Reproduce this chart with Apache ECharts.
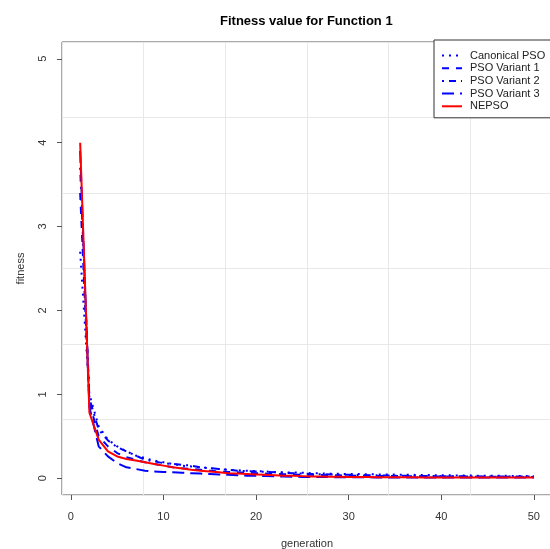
<!DOCTYPE html>
<html>
<head>
<meta charset="utf-8">
<script src="https://cdn.jsdelivr.net/npm/echarts@6/dist/echarts.min.js"></script>
<style>html,body{margin:0;padding:0;background:#fff}#c{width:550px;height:549px}</style>
</head>
<body>
<div id="c"></div>
<script>
const generations = Array.from({length: 50}, (_, i) => i + 1);
const xTicks = [0, 10, 20, 30, 40, 50];
const yTicks = [0, 1, 2, 3, 4, 5];
const seriesNames = ['Canonical PSO', 'PSO Variant 1', 'PSO Variant 2', 'PSO Variant 3', 'NEPSO'];

const canonicalPSO = [2.7, 1.0, 0.62, 0.46, 0.38, 0.32, 0.27, 0.24, 0.21, 0.19,
  0.17, 0.15, 0.14, 0.13, 0.12, 0.11, 0.10, 0.095, 0.09, 0.085,
  0.08, 0.075, 0.07, 0.068, 0.065, 0.06, 0.058, 0.055, 0.053, 0.05,
  0.05, 0.048, 0.046, 0.045, 0.043, 0.042, 0.04, 0.038, 0.037, 0.035,
  0.034, 0.033, 0.032, 0.03, 0.03, 0.029, 0.028, 0.027, 0.026, 0.025];
const psoVariant1 = [3.4, 0.9, 0.5, 0.38, 0.3, 0.25, 0.22, 0.19, 0.17, 0.15,
  0.13, 0.12, 0.11, 0.1, 0.09, 0.08, 0.075, 0.07, 0.065, 0.06,
  0.055, 0.05, 0.048, 0.045, 0.042, 0.04, 0.038, 0.036, 0.034, 0.032,
  0.03, 0.029, 0.028, 0.027, 0.026, 0.025, 0.024, 0.023, 0.022, 0.021,
  0.02, 0.02, 0.019, 0.018, 0.018, 0.017, 0.017, 0.016, 0.016, 0.015];
const psoVariant2 = [3.7, 0.95, 0.58, 0.45, 0.37, 0.32, 0.27, 0.22, 0.2, 0.18,
  0.17, 0.16, 0.15, 0.13, 0.12, 0.11, 0.1, 0.09, 0.085, 0.08,
  0.075, 0.07, 0.065, 0.06, 0.055, 0.05, 0.048, 0.045, 0.042, 0.04,
  0.038, 0.036, 0.034, 0.032, 0.03, 0.03, 0.028, 0.027, 0.026, 0.025,
  0.024, 0.023, 0.022, 0.021, 0.02, 0.02, 0.02, 0.02, 0.02, 0.02];
const psoVariant3 = [3.9, 0.85, 0.38, 0.26, 0.18, 0.13, 0.11, 0.09, 0.08, 0.075,
  0.07, 0.065, 0.06, 0.055, 0.05, 0.045, 0.04, 0.035, 0.03, 0.028,
  0.025, 0.022, 0.02, 0.018, 0.016, 0.015, 0.014, 0.013, 0.012, 0.012,
  0.011, 0.011, 0.01, 0.01, 0.01, 0.01, 0.01, 0.01, 0.01, 0.01,
  0.01, 0.01, 0.01, 0.01, 0.01, 0.01, 0.01, 0.01, 0.01, 0.01];
const nepso = [4.0, 0.78, 0.46, 0.32, 0.26, 0.23, 0.21, 0.19, 0.17, 0.15,
  0.13, 0.115, 0.10, 0.09, 0.08, 0.07, 0.06, 0.055, 0.05, 0.045,
  0.04, 0.035, 0.03, 0.028, 0.025, 0.022, 0.02, 0.018, 0.017, 0.016,
  0.015, 0.014, 0.013, 0.012, 0.012, 0.011, 0.011, 0.01, 0.01, 0.01,
  0.01, 0.01, 0.01, 0.01, 0.01, 0.01, 0.01, 0.01, 0.01, 0.01];

const allValues = [canonicalPSO, psoVariant1, psoVariant2, psoVariant3, nepso];
const colors = ['#0000ff', '#0000ff', '#0000ff', '#0000ff', '#ff0000'];
const dashes = [[2, 5], [7, 7], [2, 5, 7, 5], [12, 6], 'solid'];

const FONT = 'Liberation Sans, Arial, sans-serif';
const chart = echarts.init(document.getElementById('c'));

const series = seriesNames.map((name, i) => ({
  name: name,
  type: 'line',
  xAxisIndex: 0,
  yAxisIndex: 0,
  symbol: 'none',
  showSymbol: false,
  data: generations.map((g, j) => [g, allValues[i][j]]),
  lineStyle: { color: colors[i], width: 2, type: dashes[i] },
  itemStyle: { color: colors[i] },
  z: i === 4 ? 5 : 3,
  animation: false
}));

chart.setOption({
  animation: false,
  backgroundColor: '#fff',
  title: {
    text: 'Fitness value for Function 1',
    left: 215, top: 10,
    textStyle: { fontFamily: FONT, fontSize: 13, fontWeight: 'bold', color: '#000' }
  },
  grid: {
    left: 62, right: -2, top: 42, bottom: 54,
    outerBoundsMode: 'none',
    containLabel: false,
    show: true, borderColor: '#555', borderWidth: 1, backgroundColor: 'transparent'
  },
  legend: {
    show: true,
    data: seriesNames,
    orient: 'vertical',
    left: 434, top: 40,
    itemWidth: 20, itemHeight: 11, itemGap: 1.7,
    padding: [10, 10, 6, 7],
    borderColor: '#333', borderWidth: 1, backgroundColor: '#fff',
    itemStyle: { opacity: 0, borderWidth: 0 },
    textStyle: { fontFamily: FONT, fontSize: 11, color: '#222', padding: [0, 0, 0, 3] },
    z: 10
  },
  xAxis: [{
    type: 'value', min: -0.96, max: 51.96,
    name: 'generation', nameLocation: 'middle', nameGap: 43,
    nameTextStyle: { fontFamily: FONT, fontSize: 11, color: '#333' },
    axisLine: { show: false, onZero: false },
    axisTick: { show: true, length: 5, inside: false, customValues: xTicks, lineStyle: { color: '#555' } },
    axisLabel: { customValues: xTicks, margin: 16, fontFamily: FONT, fontSize: 11, color: '#333' },
    splitLine: { show: false }
  }, {
    type: 'value', min: 0, max: 6, interval: 1, position: 'top',
    axisLine: { show: false, onZero: false }, axisTick: { show: false }, axisLabel: { show: false },
    splitLine: { show: true, lineStyle: { color: '#e8e8e8', width: 1 } }
  }],
  yAxis: [{
    type: 'value', min: -0.2, max: 5.2,
    name: 'fitness', nameLocation: 'middle', nameGap: 36,
    nameTextStyle: { fontFamily: FONT, fontSize: 11, color: '#333' },
    axisLine: { show: false, onZero: false },
    axisTick: { show: true, length: 5, inside: false, customValues: yTicks, lineStyle: { color: '#555' } },
    axisLabel: { customValues: yTicks, rotate: 90, margin: 14, fontFamily: FONT, fontSize: 11, color: '#333' },
    splitLine: { show: false }
  }, {
    type: 'value', min: 0, max: 6, interval: 1, position: 'right',
    axisLine: { show: false, onZero: false }, axisTick: { show: false }, axisLabel: { show: false },
    splitLine: { show: true, lineStyle: { color: '#e8e8e8', width: 1 } }
  }],
  series: series
});
</script>
</body>
</html>
